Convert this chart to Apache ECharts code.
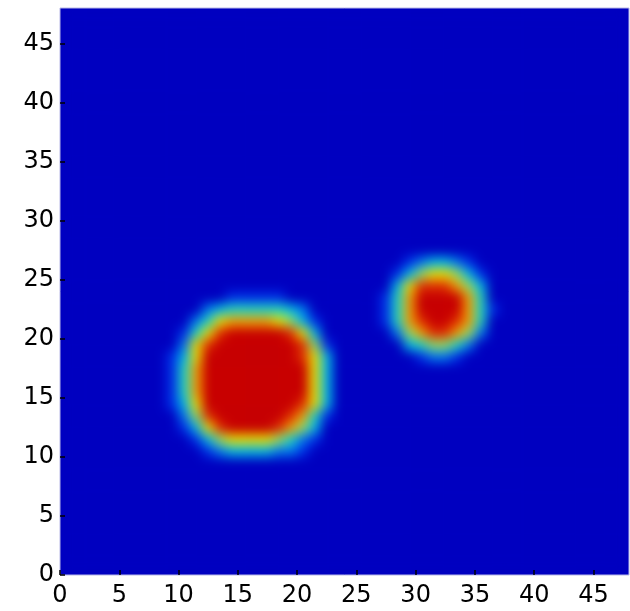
<!DOCTYPE html>
<html>
<head>
<meta charset="utf-8">
<script src="https://cdn.jsdelivr.net/npm/echarts@6/dist/echarts.min.js"></script>
<style>
  html, body { margin: 0; padding: 0; background: #ffffff; }
  #stage { position: relative; width: 630px; height: 611px; }
  #clip { position: absolute; left: 60px; top: 8px; width: 569px; height: 567px; overflow: hidden; background: #0000c0; }
  #field { position: absolute; left: -60px; top: -8px; width: 630px; height: 611px; filter: blur(6px); }
  #frame { position: absolute; left: 0; top: 0; width: 630px; height: 611px; }
</style>
</head>
<body>
<div id="stage">
  <div id="clip"><div id="field"></div></div>
  <div id="frame"></div>
</div>
<script>
// Domain of the field: 48 x 48 unit cells.
const gridSize = 48;
const tickValues = [0, 5, 10, 15, 20, 25, 30, 35, 40, 45];
const levelMax = 9;

// Each entry: [row, first column, levels 0-9 for consecutive columns]. All other cells are 0.
const blobLargeRows = [
  [10, 9, '000123333221000'],
  [11, 9, '001356666542100'],
  [12, 9, '013689999875300'],
  [13, 9, '025899999987410'],
  [14, 9, '136999999998630'],
  [15, 9, '147999999999630'],
  [16, 9, '147999999999630'],
  [17, 9, '147999999999630'],
  [18, 9, '136999999998630'],
  [19, 9, '026899999998510'],
  [20, 9, '014689999986300'],
  [21, 9, '002467777653100'],
  [22, 9, '000234444432000'],
  [23, 9, '000001111100000']
];

const blobSmallRows = [
  [18, 27, '0001221000'],
  [19, 27, '0034554200'],
  [20, 27, '0257887520'],
  [21, 27, '1478998740'],
  [22, 27, '1479999741'],
  [23, 27, '1479999740'],
  [24, 27, '0368887530'],
  [25, 27, '0135665310'],
  [26, 27, '0012332100']
];

const palette = ['#0000c0', '#0030e8', '#0078f0', '#00b8e8', '#20d8c0', '#90e060', '#e8e000', '#f0a000', '#e03000', '#c80000'];

// Assemble the full grid from the sparse rows.
const cells = [];
for (let r = 0; r < gridSize; r++) cells.push(new Array(gridSize).fill(0));
[blobLargeRows, blobSmallRows].forEach(function (rows) {
  rows.forEach(function (entry) {
    const row = entry[0], col0 = entry[1], levels = entry[2];
    for (let k = 0; k < levels.length; k++) {
      cells[row][col0 + k] = Number(levels[k]);
    }
  });
});

const heatData = [];
for (let r = 0; r < gridSize; r++) {
  for (let c = 0; c < gridSize; c++) {
    heatData.push([c, r, cells[r][c] / levelMax]);
  }
}
const cats = [];
for (let i = 0; i < gridSize; i++) cats.push(String(i));

const gridRect = { left: 60, top: 8, right: 1, bottom: 36 };

// Field layer (shaded, smoothed by the CSS filter on its container).
const field = echarts.init(document.getElementById('field'), null, { renderer: 'canvas' });
field.setOption({
  animation: false,
  grid: Object.assign({ show: false }, gridRect),
  xAxis: { type: 'category', data: cats, show: false },
  yAxis: { type: 'category', data: cats, show: false },
  visualMap: {
    show: false, type: 'continuous', min: 0, max: 1, calculable: false,
    inRange: { color: palette }
  },
  series: [{
    type: 'heatmap',
    data: heatData,
    itemStyle: { borderWidth: 0 },
    emphasis: { disabled: true },
    progressive: 0
  }]
});

// Frame layer: border, ticks and tick labels.
const labelStyle = { fontFamily: 'DejaVu Sans', fontSize: 24, color: '#000000' };
const frame = echarts.init(document.getElementById('frame'), null, { renderer: 'canvas' });
frame.setOption({
  animation: false,
  grid: Object.assign({ show: true, borderColor: '#b8b8e6', borderWidth: 1, backgroundColor: 'transparent' }, gridRect),
  xAxis: {
    type: 'value', min: 0, max: gridSize, interval: 5,
    axisLine: { show: false },
    splitLine: { show: false },
    axisTick: { show: true, inside: true, length: 5, customValues: tickValues, lineStyle: { color: '#000000', width: 1.5 } },
    axisLabel: Object.assign({ margin: 9, customValues: tickValues }, labelStyle)
  },
  yAxis: {
    type: 'value', min: 0, max: gridSize, interval: 5,
    axisLine: { show: false },
    splitLine: { show: false },
    axisTick: { show: true, inside: true, length: 5, customValues: tickValues, lineStyle: { color: '#000000', width: 1.5 } },
    axisLabel: Object.assign({ margin: 6, customValues: tickValues }, labelStyle)
  },
  series: []
});
</script>
</body>
</html>
